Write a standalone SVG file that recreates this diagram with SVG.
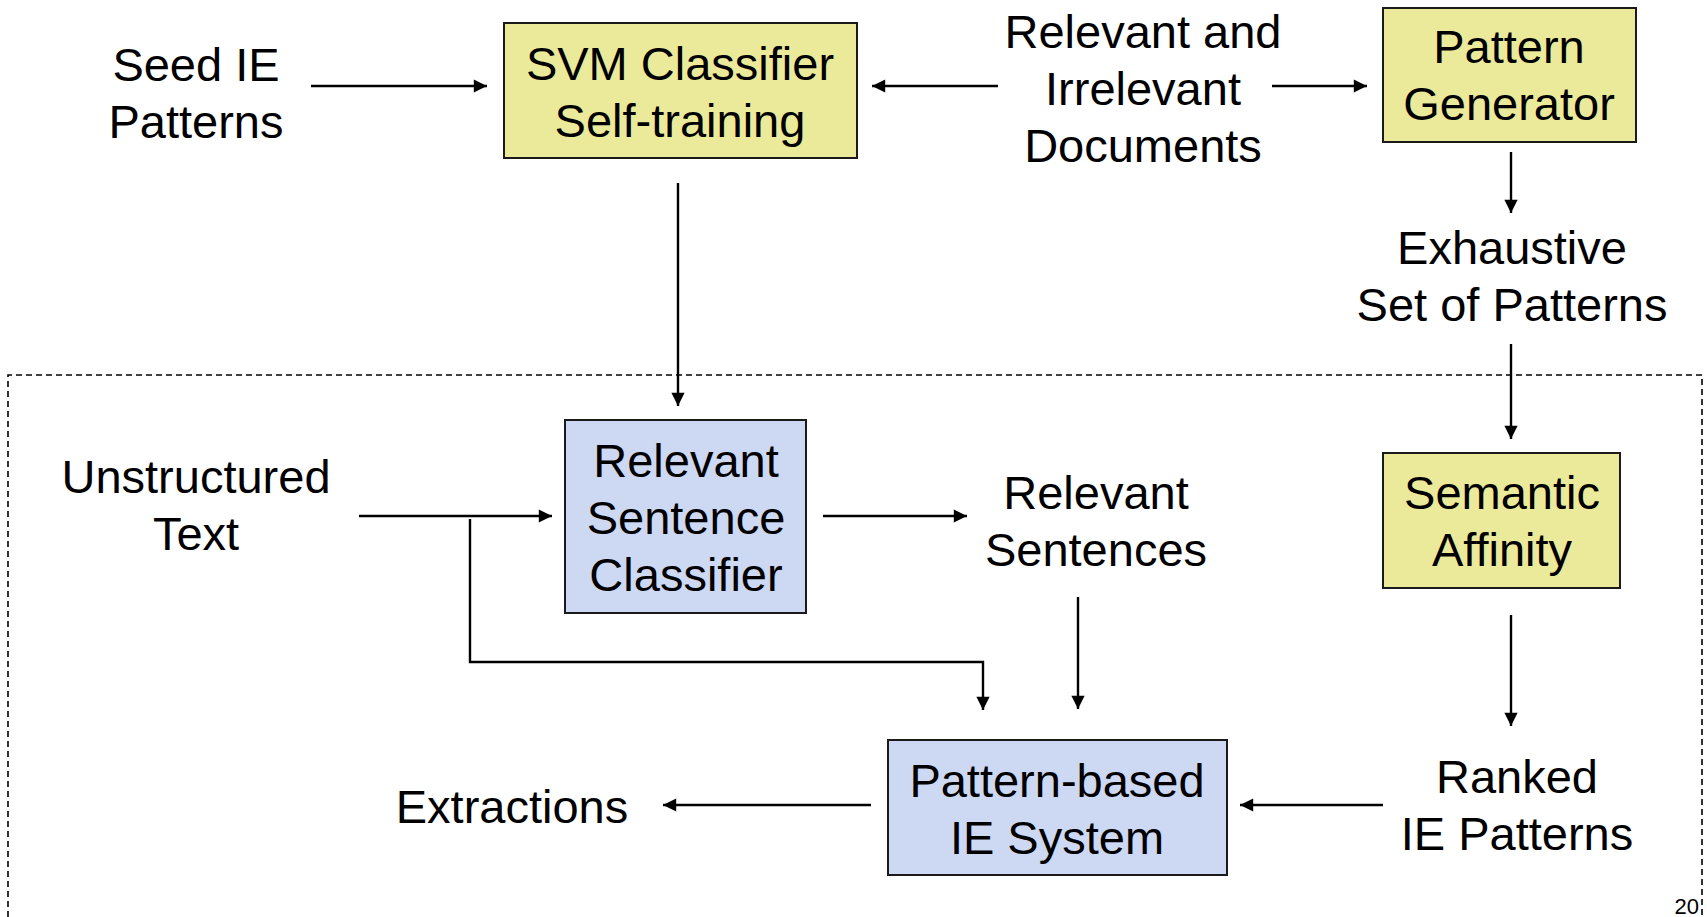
<svg xmlns="http://www.w3.org/2000/svg" width="1707" height="917" viewBox="0 0 1707 917">
  <style>
    .lbl { font-family: "Liberation Sans", Arial, sans-serif; font-size: 47px; fill: #000; text-anchor: middle; }
    .box { stroke: #1a1a1a; stroke-width: 2; }
    .yel { fill: #EBEA9B; }
    .blu { fill: #CDD8F3; }
    .edge { stroke: #000; stroke-width: 2.4; fill: none; }
    .frame { stroke: #000; stroke-width: 1.6; fill: none; stroke-dasharray: 6 4; }
    .pg { font-family: "Liberation Sans", Arial, sans-serif; font-size: 22px; fill: #000; text-anchor: end; }
  </style>
  <defs>
    <marker id="arrow" viewBox="0 0 10 10" refX="10" refY="5" markerWidth="6" markerHeight="5.5" markerUnits="strokeWidth" orient="auto">
      <path d="M0,0 L10,5 L0,10 z" fill="#000"/>
    </marker>
  </defs>

  <rect width="1707" height="917" fill="#fff"/>

  <!-- dashed frame around the extraction stage -->
  <path class="frame" d="M8,917 L8,375 L1702,375 L1702,917"/>

  <!-- connectors -->
  <g id="connectors">
    <line class="edge" x1="311" y1="86" x2="487" y2="86" marker-end="url(#arrow)"/>
    <line class="edge" x1="998" y1="86" x2="872" y2="86" marker-end="url(#arrow)"/>
    <line class="edge" x1="1272" y1="86" x2="1367" y2="86" marker-end="url(#arrow)"/>
    <line class="edge" x1="1511" y1="152" x2="1511" y2="213" marker-end="url(#arrow)"/>
    <line class="edge" x1="1511" y1="344" x2="1511" y2="439" marker-end="url(#arrow)"/>
    <line class="edge" x1="678" y1="183" x2="678" y2="406" marker-end="url(#arrow)"/>
    <line class="edge" x1="359" y1="516" x2="552" y2="516" marker-end="url(#arrow)"/>
    <polyline class="edge" points="470,519 470,662 983,662 983,710" marker-end="url(#arrow)"/>
    <line class="edge" x1="823" y1="516" x2="967" y2="516" marker-end="url(#arrow)"/>
    <line class="edge" x1="1078" y1="597" x2="1078" y2="709" marker-end="url(#arrow)"/>
    <line class="edge" x1="1511" y1="615" x2="1511" y2="726" marker-end="url(#arrow)"/>
    <line class="edge" x1="1383" y1="805" x2="1240" y2="805" marker-end="url(#arrow)"/>
    <line class="edge" x1="871" y1="805" x2="663" y2="805" marker-end="url(#arrow)"/>
  </g>

  <!-- free-standing labels -->
  <g id="seed">
    <text class="lbl" x="196" y="81">Seed IE</text>
    <text class="lbl" x="196" y="138">Patterns</text>
  </g>
  <g id="documents">
    <text class="lbl" x="1143" y="48">Relevant and</text>
    <text class="lbl" x="1143" y="105">Irrelevant</text>
    <text class="lbl" x="1143" y="162">Documents</text>
  </g>
  <g id="exhaustive">
    <text class="lbl" x="1512" y="264">Exhaustive</text>
    <text class="lbl" x="1512" y="321">Set of Patterns</text>
  </g>
  <g id="unstructured">
    <text class="lbl" x="196" y="493">Unstructured</text>
    <text class="lbl" x="196" y="550">Text</text>
  </g>
  <g id="relevant-sentences">
    <text class="lbl" x="1096" y="509">Relevant</text>
    <text class="lbl" x="1096" y="566">Sentences</text>
  </g>
  <g id="extractions">
    <text class="lbl" x="512" y="823">Extractions</text>
  </g>
  <g id="ranked">
    <text class="lbl" x="1517" y="793">Ranked</text>
    <text class="lbl" x="1517" y="850">IE Patterns</text>
  </g>

  <!-- process boxes -->
  <g id="svm">
    <rect class="box yel" x="504" y="23" width="353" height="135"/>
    <text class="lbl" x="680" y="80">SVM Classifier</text>
    <text class="lbl" x="680" y="137">Self-training</text>
  </g>
  <g id="pattern-generator">
    <rect class="box yel" x="1383" y="8" width="253" height="134"/>
    <text class="lbl" x="1509" y="63">Pattern</text>
    <text class="lbl" x="1509" y="120">Generator</text>
  </g>
  <g id="semantic-affinity">
    <rect class="box yel" x="1383" y="453" width="237" height="135"/>
    <text class="lbl" x="1502" y="509">Semantic</text>
    <text class="lbl" x="1502" y="566">Affinity</text>
  </g>
  <g id="sentence-classifier">
    <rect class="box blu" x="565" y="420" width="241" height="193"/>
    <text class="lbl" x="686" y="477">Relevant</text>
    <text class="lbl" x="686" y="534">Sentence</text>
    <text class="lbl" x="686" y="591">Classifier</text>
  </g>
  <g id="ie-system">
    <rect class="box blu" x="888" y="740" width="339" height="135"/>
    <text class="lbl" x="1057" y="797">Pattern-based</text>
    <text class="lbl" x="1057" y="854">IE System</text>
  </g>

  <text class="pg" x="1699" y="914">20</text>
</svg>
